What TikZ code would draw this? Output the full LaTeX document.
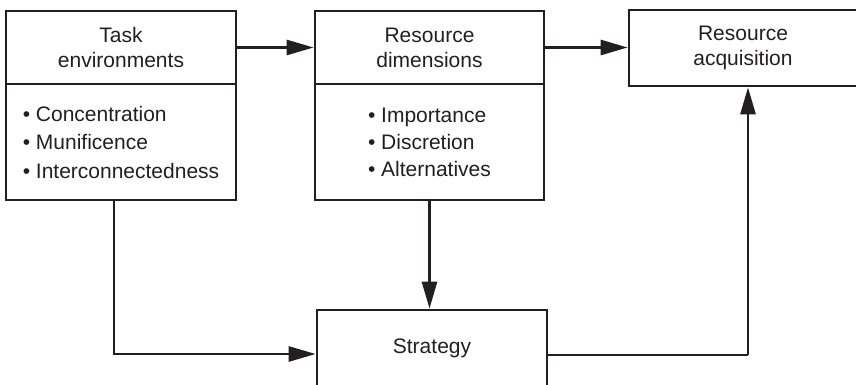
\documentclass[tikz,border=0pt]{standalone}
\usepackage{fontspec}
\setmainfont{Liberation Sans}
\usetikzlibrary{arrows.meta}
\definecolor{ink}{HTML}{231F20}
\begin{document}
\begin{tikzpicture}[x=1pt,y=-1pt,
  every node/.style={text=ink, font=\fontsize{21}{25}\selectfont},
  box/.style={draw=ink, line width=2.7pt, rectangle, inner sep=0pt, align=center},
  listbox/.style={box, font=\fontsize{21}{28.5}\selectfont},
  itemlist/.style={align=left, inner sep=0pt},
  flow/.style={draw=ink, line width=2.7pt, -{Triangle[length=27pt,width=15pt]}},
  link/.style={draw=ink, line width=2.7pt}]
  \useasboundingbox (0,0) rectangle (856,385);

  % Task environments
  \node[box, minimum width=230pt, minimum height=73pt] (teHead) at (121,47.5) {Task\\environments};
  \node[box, minimum width=230pt, minimum height=116pt] (teBody) at (121,142) {};
  \node[itemlist, font=\fontsize{21}{28.5}\selectfont] (teItems) at (teBody.center)
    {• Concentration\\• Munificence\\• Interconnectedness};

  % Resource dimensions
  \node[box, minimum width=229pt, minimum height=73pt] (rdHead) at (429.5,47.5) {Resource\\dimensions};
  \node[box, minimum width=229pt, minimum height=116pt] (rdBody) at (429.5,142) {};
  \node[itemlist, font=\fontsize{21}{27}\selectfont] (rdItems) at (rdBody.center)
    {• Importance\\• Discretion\\• Alternatives};

  % Resource acquisition
  \node[box, minimum width=228pt, minimum height=76pt] (acq) at (743,48) {Resource\\acquisition};

  % Strategy
  \node[box, minimum width=230pt, minimum height=76pt] (strat) at (432,348) {Strategy};

  % connector bends
  \coordinate (leftBend) at (114,354);
  \coordinate (rightBend) at (748,355);

  \draw[flow] (teHead.east) -- (rdHead.west);
  \draw[flow] (rdHead.east) -- (rdHead.east -| acq.west);
  \draw[flow] (rdBody.south) -- (rdBody.south |- strat.north);
  \draw[flow] (teBody.south -| leftBend) -- (leftBend) -- (leftBend -| strat.west);
  \draw[link] (rightBend -| strat.east) -- (rightBend);
  \draw[flow] (rightBend) -- (rightBend |- acq.south);
\end{tikzpicture}
\end{document}
